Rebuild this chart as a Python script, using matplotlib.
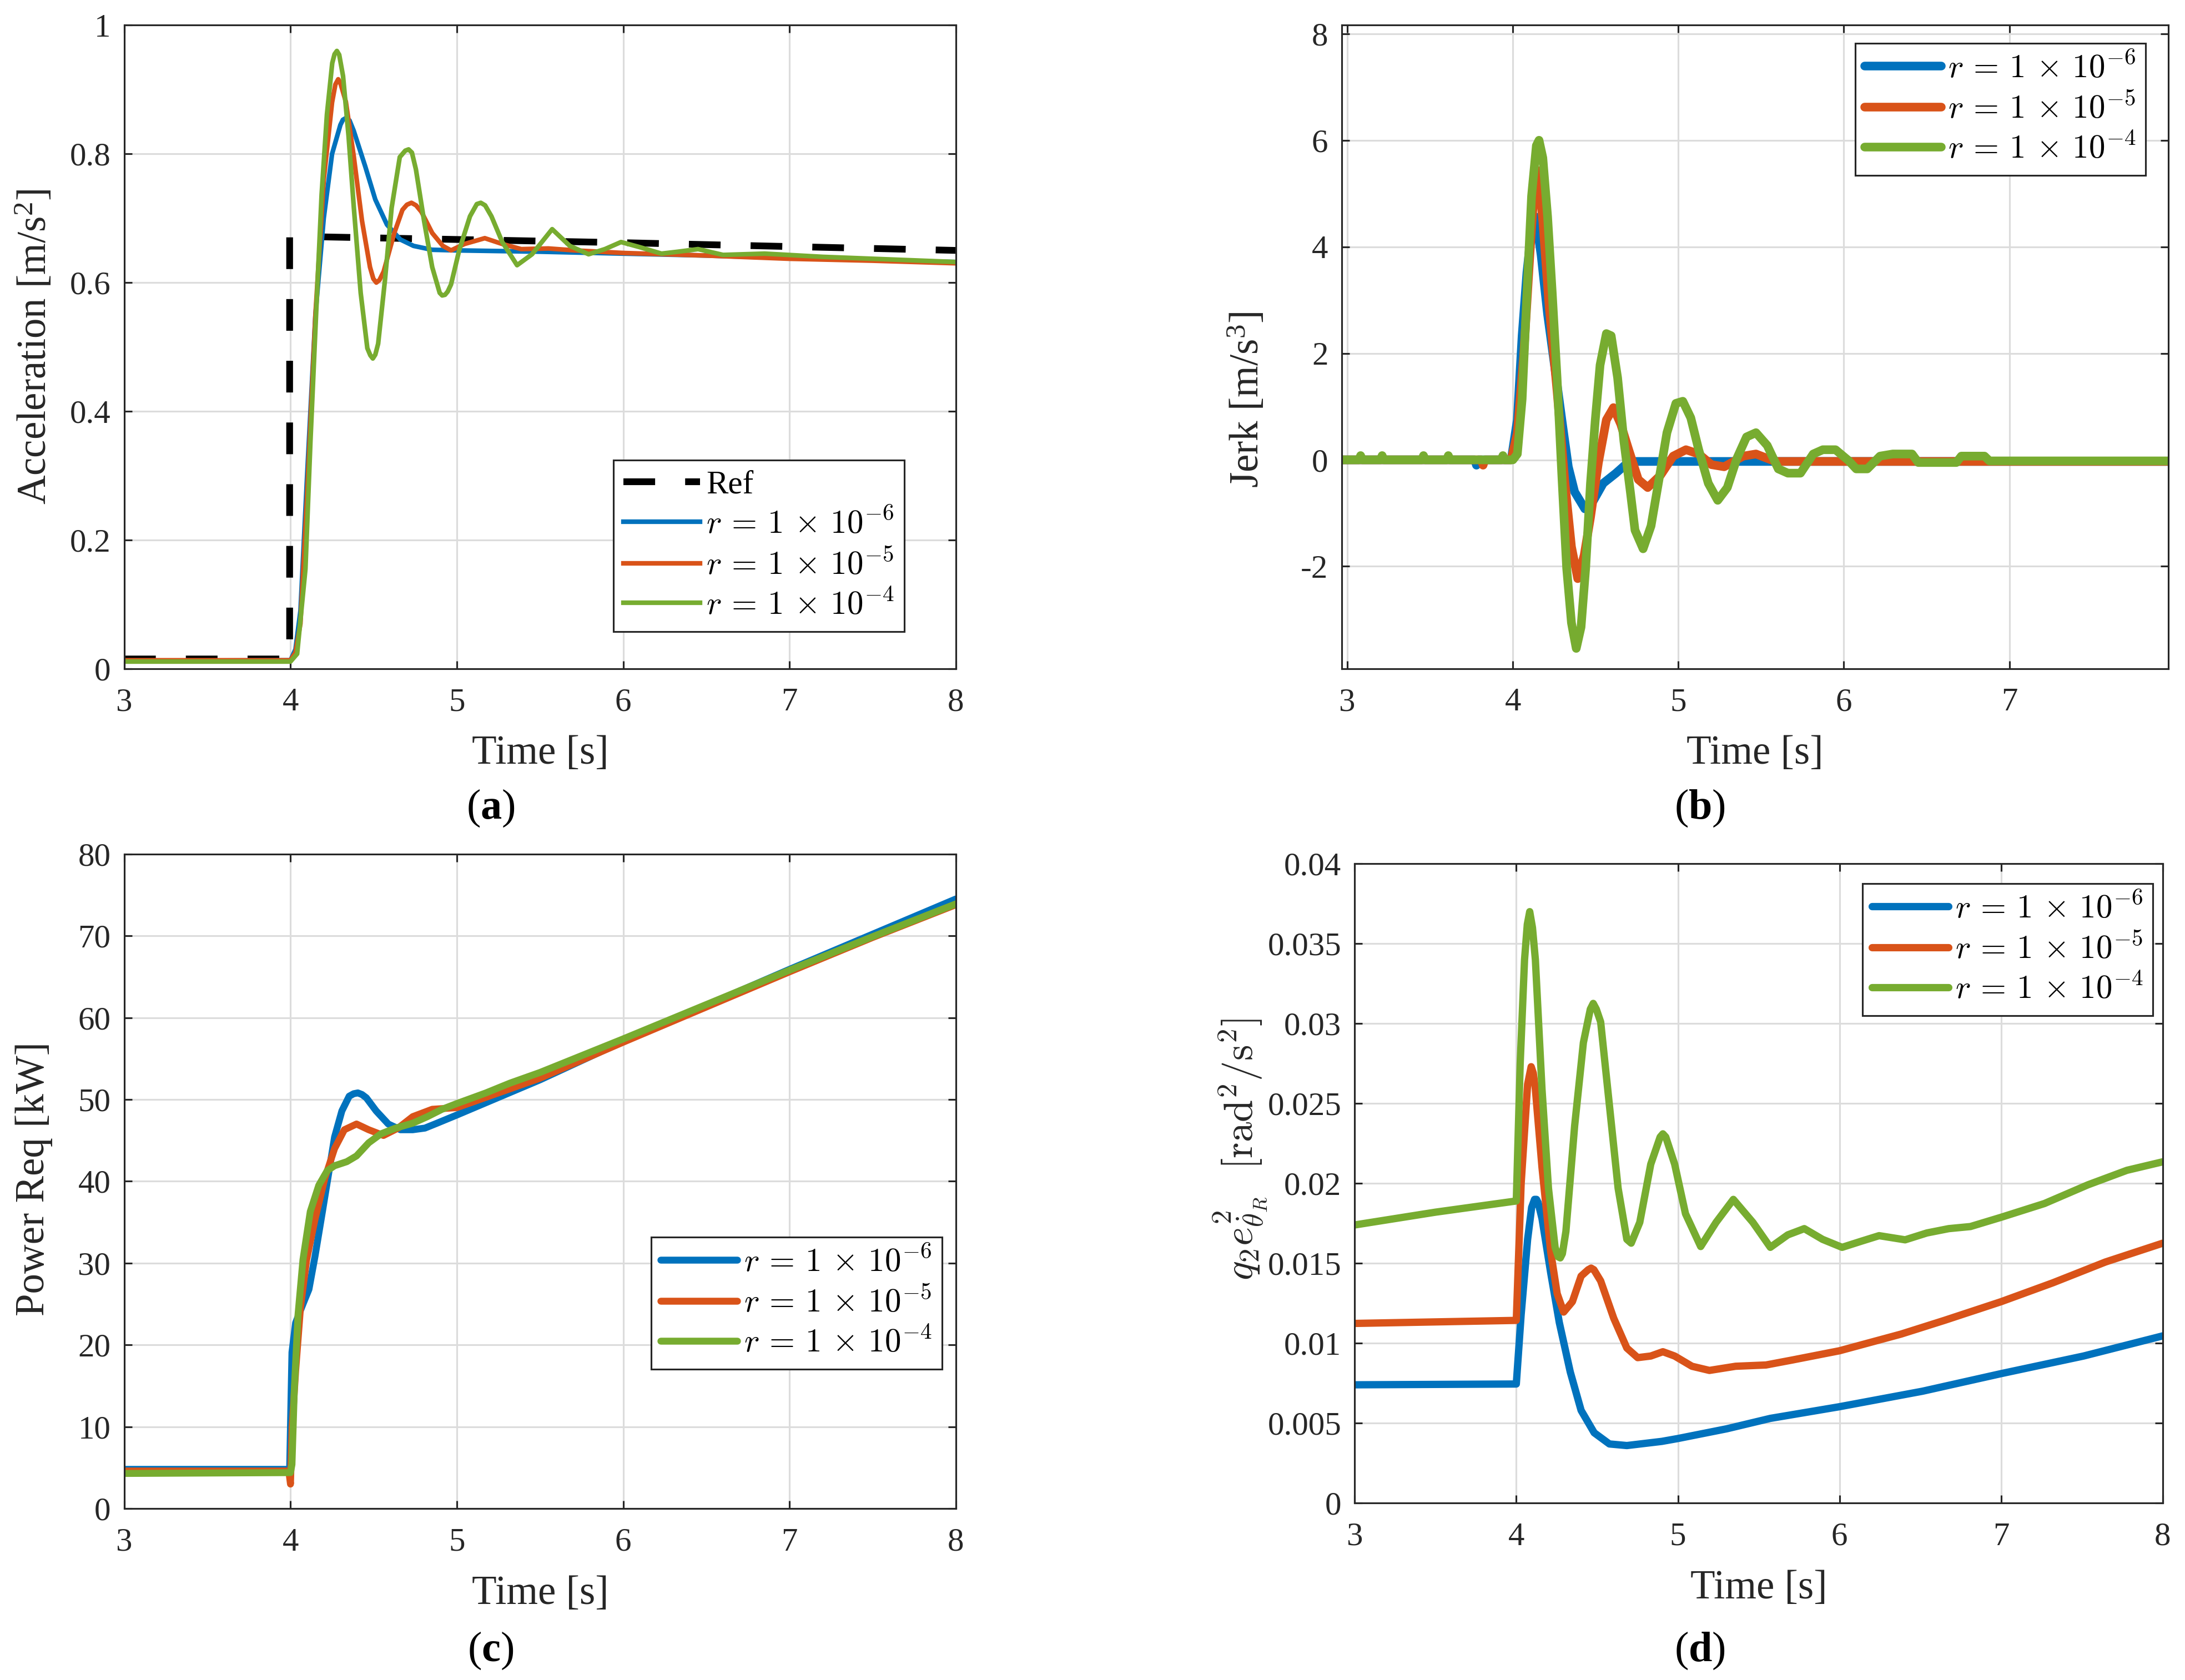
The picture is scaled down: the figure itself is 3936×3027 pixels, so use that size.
import matplotlib
matplotlib.use("Agg")
import matplotlib.pyplot as plt
from matplotlib.ticker import FuncFormatter

# ---- data ----
labels = [r"$r\,=\,1\,\times\,10^{-6}$", r"$r\,=\,1\,\times\,10^{-5}$", r"$r\,=\,1\,\times\,10^{-4}$"]
colors = ["#0072BD", "#D95319", "#77AC30"]

# (a) acceleration
t_ref = [3.0, 3.995, 3.995, 6.0, 8.0]
a_ref = [0.015, 0.015, 0.672, 0.662, 0.650]

t_a1 = [3.0, 4.0, 4.03, 4.06, 4.1, 4.15, 4.2, 4.25, 4.3, 4.315,
        4.335, 4.355, 4.38, 4.45, 4.51, 4.58, 4.66, 4.74, 4.85, 5.0,
        5.5, 6.0, 6.5, 7.0, 7.5, 8.0]
a_a1 = [0.012, 0.013, 0.03, 0.09, 0.30, 0.55, 0.70, 0.80, 0.845, 0.853,
        0.856, 0.852, 0.836, 0.78, 0.729, 0.69, 0.667, 0.657, 0.651, 0.650,
        0.648, 0.645, 0.642, 0.638, 0.635, 0.632]

t_a2 = [3.0, 4.0, 4.03, 4.06, 4.1, 4.15, 4.2, 4.25, 4.27, 4.287,
        4.30, 4.333, 4.381, 4.43, 4.478, 4.498, 4.516, 4.535, 4.56, 4.624,
        4.673, 4.70, 4.727, 4.755, 4.787, 4.852, 4.916, 4.965, 5.046, 5.168,
        5.273, 5.387, 5.55, 5.71, 6.0, 6.5, 7.0, 7.5, 8.0]
a_a2 = [0.013, 0.013, 0.025, 0.07, 0.27, 0.55, 0.76, 0.88, 0.908, 0.916,
        0.910, 0.881, 0.795, 0.696, 0.624, 0.606, 0.600, 0.604, 0.617, 0.677,
        0.713, 0.721, 0.724, 0.720, 0.710, 0.677, 0.657, 0.650, 0.660, 0.669,
        0.660, 0.652, 0.653, 0.650, 0.646, 0.642, 0.637, 0.634, 0.630]

t_a3 = [3.0, 4.0, 4.04, 4.09, 4.12, 4.154, 4.187, 4.219, 4.251, 4.265,
        4.279, 4.293, 4.316, 4.349, 4.381, 4.422, 4.462, 4.48, 4.495, 4.51,
        4.527, 4.568, 4.608, 4.657, 4.69, 4.71, 4.73, 4.754, 4.803, 4.852,
        4.897, 4.912, 4.929, 4.945, 4.965, 5.014, 5.079, 5.12, 5.144, 5.17,
        5.208, 5.273, 5.362, 5.452, 5.573, 5.679, 5.792, 5.89, 5.987, 6.1,
        6.23, 6.33, 6.45, 6.6, 6.85, 7.2, 7.6, 8.0]
a_a3 = [0.011, 0.011, 0.023, 0.155, 0.353, 0.551, 0.736, 0.861, 0.941, 0.955,
        0.960, 0.954, 0.921, 0.828, 0.716, 0.584, 0.498, 0.487, 0.482, 0.488,
        0.505, 0.604, 0.716, 0.795, 0.805, 0.807, 0.802, 0.776, 0.696, 0.624,
        0.584, 0.580, 0.581, 0.586, 0.597, 0.650, 0.703, 0.722, 0.724, 0.720,
        0.703, 0.663, 0.627, 0.644, 0.683, 0.657, 0.644, 0.652, 0.663, 0.655,
        0.645, 0.648, 0.652, 0.643, 0.645, 0.640, 0.636, 0.632]

# (b) jerk
t_j1 = [2.96, 3.77, 3.78, 3.79, 3.99, 4.027, 4.056, 4.085, 4.113, 4.138,
        4.171, 4.21, 4.248, 4.296, 4.335, 4.373, 4.435, 4.488, 4.546, 4.623,
        4.681, 4.738, 5.0, 6.0, 7.96]
j_j1 = [0, 0, -0.1, 0, 0, 0.75, 2.33, 3.52, 4.32, 4.56,
        3.84, 2.73, 1.86, 0.75, -0.13, -0.60, -0.92, -0.76, -0.44, -0.25,
        -0.09, -0.03, -0.03, -0.03, -0.03]

t_j2 = [2.96, 3.81, 3.82, 3.83, 3.99, 4.027, 4.065, 4.104, 4.133, 4.152,
        4.181, 4.219, 4.267, 4.315, 4.354, 4.392, 4.431, 4.469, 4.517, 4.565,
        4.608, 4.652, 4.70, 4.758, 4.815, 4.892, 4.969, 5.046, 5.123, 5.20,
        5.277, 5.392, 5.469, 5.585, 6.0, 7.96]
j_j2 = [0, 0, -0.1, 0, 0, 0.5, 1.94, 3.92, 5.27, 5.43,
        4.48, 2.89, 1.30, -0.44, -1.63, -2.23, -1.79, -1.08, -0.05, 0.75,
        0.98, 0.67, 0.19, -0.37, -0.52, -0.29, 0.07, 0.19, 0.11, -0.09,
        -0.13, 0.07, 0.11, -0.03, -0.03, -0.03]

t_j3 = [2.96, 3.07, 3.08, 3.09, 3.2, 3.21, 3.22, 3.45, 3.46, 3.47,
        3.6, 3.61, 3.62, 3.93, 3.94, 3.95, 4.0, 4.027, 4.056, 4.085,
        4.113, 4.142, 4.158, 4.181, 4.21, 4.238, 4.267, 4.296, 4.325, 4.354,
        4.383, 4.412, 4.44, 4.469, 4.498, 4.527, 4.565, 4.594, 4.633, 4.671,
        4.71, 4.738, 4.787, 4.835, 4.883, 4.931, 4.985, 5.027, 5.075, 5.123,
        5.181, 5.238, 5.296, 5.354, 5.412, 5.469, 5.537, 5.604, 5.662, 5.738,
        5.815, 5.873, 5.95, 6.027, 6.075, 6.142, 6.219, 6.296, 6.412, 6.45,
        6.68, 6.71, 6.85, 6.88, 7.96]
j_j3 = [0, 0, 0.08, 0, 0, 0.08, 0, 0, 0.08, 0,
        0, 0.08, 0, 0, 0.08, 0, 0, 0.11, 1.14, 3.13,
        4.95, 5.9, 6.0, 5.67, 4.56, 3.13, 1.54, -0.29, -2.03, -3.06,
        -3.54, -3.14, -2.03, -0.44, 0.75, 1.78, 2.37, 2.33, 1.54, 0.35,
        -0.6, -1.32, -1.67, -1.24, -0.37, 0.51, 1.06, 1.10, 0.79, 0.19,
        -0.44, -0.76, -0.52, 0.03, 0.43, 0.51, 0.27, -0.17, -0.25, -0.25,
        0.11, 0.19, 0.19, -0.01, -0.17, -0.17, 0.07, 0.11, 0.11, -0.05,
        -0.05, 0.07, 0.07, -0.02, -0.02]

# (c) power request [kW]
t_p1 = [3.0, 3.995, 4.0, 4.009, 4.031, 4.075, 4.111, 4.148, 4.192, 4.229,
        4.265, 4.309, 4.353, 4.38, 4.405, 4.43, 4.456, 4.515, 4.588, 4.661,
        4.735, 4.808, 4.881, 5.0, 5.5, 6.0, 6.5, 7.0, 7.5, 8.0]
p_p1 = [4.8, 4.8, 10.0, 19.1, 22.7, 25.0, 26.8, 30.9, 36.3, 40.9,
        45.4, 48.6, 50.4, 50.7, 50.8, 50.6, 50.2, 48.6, 47.0, 46.3,
        46.3, 46.5, 47.1, 48.1, 52.4, 57.1, 61.5, 65.9, 70.2, 74.5]

t_p2 = [3.0, 3.99, 4.0, 4.01, 4.031, 4.06, 4.097, 4.148, 4.207, 4.265,
        4.324, 4.397, 4.47, 4.559, 4.647, 4.735, 4.852, 5.0, 5.5, 6.0,
        6.5, 7.0, 7.5, 8.0]
p_p2 = [4.6, 4.6, 3.0, 10.0, 16.8, 24.5, 30.4, 35.4, 40.4, 44.0,
        46.3, 47.0, 46.3, 45.6, 46.5, 47.9, 48.8, 49.0, 52.6, 57.0,
        61.3, 65.6, 69.8, 73.8]

t_p3 = [3.0, 4.0, 4.009, 4.023, 4.045, 4.075, 4.119, 4.17, 4.221, 4.265,
        4.339, 4.397, 4.47, 4.544, 4.632, 4.735, 4.823, 4.911, 5.0, 5.175,
        5.32, 5.5, 6.0, 6.5, 7.0, 7.5, 8.0]
p_p3 = [4.3, 4.4, 5.4, 14.5, 23.6, 30.4, 36.3, 39.5, 41.3, 41.9,
        42.4, 43.1, 44.7, 45.8, 46.5, 47.1, 47.9, 48.8, 49.5, 50.8,
        52.0, 53.3, 57.4, 61.6, 65.8, 69.9, 73.9]

# (d) weighted squared error
t_q1 = [3.0, 4.0, 4.03, 4.07, 4.095, 4.113, 4.125, 4.135, 4.159, 4.213,
        4.266, 4.334, 4.401, 4.482, 4.576, 4.684, 4.9, 5.0, 5.303, 5.572,
        6.0, 6.514, 7.0, 7.51, 8.0]
q_q1 = [0.0074, 0.00745, 0.0118, 0.0165, 0.0185, 0.0190, 0.0190, 0.0188, 0.0178, 0.0144,
        0.0113, 0.0082, 0.0058, 0.0044, 0.0037, 0.0036, 0.00386, 0.00404, 0.00465, 0.0053,
        0.00603, 0.0070, 0.0081, 0.0092, 0.01046]

t_q2 = [3.0, 4.0, 4.03, 4.07, 4.092, 4.105, 4.118, 4.159, 4.213, 4.253,
        4.293, 4.347, 4.401, 4.445, 4.463, 4.48, 4.522, 4.603, 4.684, 4.751,
        4.832, 4.907, 4.98, 5.087, 5.195, 5.357, 5.545, 5.707, 6.0, 6.38,
        6.649, 7.0, 7.32, 7.645, 8.0]
q_q2 = [0.01124, 0.01143, 0.0200, 0.0262, 0.0273, 0.0269, 0.0259, 0.0210, 0.0157, 0.0131,
        0.01195, 0.0126, 0.0142, 0.0146, 0.0147, 0.0146, 0.0139, 0.01156, 0.0097, 0.0091,
        0.0092, 0.00947, 0.0092, 0.00856, 0.0083, 0.00856, 0.00864, 0.00895, 0.00953, 0.01057,
        0.01143, 0.0126, 0.01378, 0.01508, 0.01626]

t_q3 = [3.0, 3.5, 4.0, 4.024, 4.051, 4.068, 4.083, 4.10, 4.118, 4.159,
        4.199, 4.24, 4.26, 4.272, 4.285, 4.307, 4.361, 4.415, 4.458, 4.476,
        4.495, 4.522, 4.576, 4.63, 4.684, 4.711, 4.764, 4.832, 4.89, 4.907,
        4.925, 4.98, 5.047, 5.141, 5.236, 5.343, 5.464, 5.572, 5.68, 5.782,
        5.895, 6.016, 6.137, 6.245, 6.406, 6.541, 6.676, 6.81, 7.0, 7.268,
        7.537, 7.779, 8.0]
q_q3 = [0.0174, 0.0182, 0.0189, 0.0275, 0.0340, 0.0362, 0.0370, 0.0360, 0.0340, 0.0259,
        0.0197, 0.0160, 0.0154, 0.01534, 0.0156, 0.0170, 0.0236, 0.0288, 0.0309, 0.03126,
        0.0309, 0.0301, 0.0249, 0.0197, 0.0165, 0.01626, 0.01756, 0.0212, 0.0229, 0.0231,
        0.0229, 0.0212, 0.0181, 0.01605, 0.01756, 0.0190, 0.01756, 0.0160, 0.01678, 0.01717,
        0.0165, 0.0160, 0.01639, 0.01673, 0.01647, 0.0169, 0.01717, 0.0173, 0.01788, 0.01874,
        0.01991, 0.02082, 0.02135]

# ---- style ----
plt.rcParams['font.family'] = ['Liberation Serif', 'DejaVu Serif']
plt.rcParams['mathtext.fontset'] = 'custom'
plt.rcParams['mathtext.rm'] = 'Liberation Serif'
plt.rcParams['mathtext.it'] = 'Liberation Serif:italic'
plt.rcParams['mathtext.bf'] = 'Liberation Serif:bold'
plt.rcParams['axes.unicode_minus'] = False

TXT = '#262626'
TICK_FS = 17
LAB_FS = 21
LEG_FS = 17

fig = plt.figure(figsize=(15.744, 12.108), dpi=250)
ax_a = fig.add_axes([0.0568, 0.602, 0.3807, 0.383])
ax_b = fig.add_axes([0.614, 0.602, 0.3783, 0.383])
ax_c = fig.add_axes([0.0568, 0.102, 0.3807, 0.3897])
ax_d = fig.add_axes([0.620, 0.1053, 0.3698, 0.3806])

fmt = FuncFormatter(lambda v, p: "%g" % v)


def style(ax):
    ax.grid(True, color='#dcdcdc', linewidth=0.9)
    ax.set_axisbelow(True)
    ax.tick_params(direction='in', top=True, right=True, length=4, width=0.9,
                   labelsize=TICK_FS, colors=TXT)
    ax.tick_params(axis='x', pad=10)
    ax.tick_params(axis='y', pad=7)
    for s in ax.spines.values():
        s.set_color(TXT)
        s.set_linewidth(0.9)
    ax.yaxis.set_major_formatter(fmt)
    ax.xaxis.set_major_formatter(fmt)
    ax.set_xlabel('Time [s]', fontsize=LAB_FS, color=TXT, labelpad=9)


def legend(ax, loc, anchor):
    leg = ax.legend(loc=loc, bbox_to_anchor=anchor, fontsize=LEG_FS, frameon=True,
                    fancybox=False, framealpha=1, edgecolor=TXT, borderpad=0.3,
                    labelspacing=0.27, handlelength=2.33, handletextpad=0.2,
                    borderaxespad=0)
    leg.get_frame().set_linewidth(0.9)
    for t in leg.get_texts():
        t.set_math_fontfamily('cm')
    return leg


# (a)
ax_a.plot(t_ref, a_ref, color='black', lw=3.5, dashes=(4.7, 4.45), label='Ref')
for t, y, c, l in zip([t_a1, t_a2, t_a3], [a_a1, a_a2, a_a3], colors, labels):
    ax_a.plot(t, y, color=c, lw=2.4, label=l, solid_joinstyle='round')
ax_a.set_xlim(3, 8)
ax_a.set_ylim(0, 1)
ax_a.set_xticks([3, 4, 5, 6, 7, 8])
ax_a.set_yticks([0, 0.2, 0.4, 0.6, 0.8, 1])
style(ax_a)
ax_a.set_ylabel(r'Acceleration [m/s$^2$]', fontsize=LAB_FS, color=TXT)
ax_a.yaxis.set_label_coords(-0.083, 0.5)
legend(ax_a, 'lower right', (0.938, 0.058))

# (b)
for t, y, c, l in zip([t_j1, t_j2, t_j3], [j_j1, j_j2, j_j3], colors, labels):
    ax_b.plot(t, y, color=c, lw=4.5, label=l, solid_joinstyle='round',
              solid_capstyle='round')
ax_b.set_xlim(2.965, 7.96)
ax_b.set_ylim(-3.92, 8.16)
ax_b.set_xticks([3, 4, 5, 6, 7])
ax_b.set_yticks([-2, 0, 2, 4, 6, 8])
style(ax_b)
ax_b.set_ylabel(r'Jerk [m/s$^3$]', fontsize=LAB_FS, color=TXT)
ax_b.yaxis.set_label_coords(-0.09, 0.418)
legend(ax_b, 'upper right', (0.973, 0.972))

# (c)
for t, y, c, l in zip([t_p1, t_p2, t_p3], [p_p1, p_p2, p_p3], colors, labels):
    ax_c.plot(t, y, color=c, lw=3.6, label=l, solid_joinstyle='round',
              solid_capstyle='round')
ax_c.set_xlim(3, 8)
ax_c.set_ylim(0, 80)
ax_c.set_xticks([3, 4, 5, 6, 7, 8])
ax_c.set_yticks(range(0, 81, 10))
style(ax_c)
ax_c.set_ylabel('Power Req [kW]', fontsize=LAB_FS, color=TXT)
ax_c.yaxis.set_label_coords(-0.086, 0.504)
legend(ax_c, 'lower right', (0.983, 0.213))

# (d)
for t, y, c, l in zip([t_q1, t_q2, t_q3], [q_q1, q_q2, q_q3], colors, labels):
    ax_d.plot(t, y, color=c, lw=3.8, label=l, solid_joinstyle='round',
              solid_capstyle='round')
ax_d.set_xlim(3, 8)
ax_d.set_ylim(0, 0.04)
ax_d.set_xticks([3, 4, 5, 6, 7, 8])
ax_d.set_yticks([0, 0.005, 0.01, 0.015, 0.02, 0.025, 0.03, 0.035, 0.04])
style(ax_d)
yl = ax_d.set_ylabel(r'$q_2e^2_{\dot{\theta}_R}\ \ [\mathrm{rad}^2/\mathrm{s}^2]$',
                     fontsize=LAB_FS, color=TXT)
yl.set_math_fontfamily('cm')
ax_d.yaxis.set_label_coords(-0.107, 0.553)
legend(ax_d, 'upper right', (0.988, 0.969))

# captions
for x, y, s in [(0.2245, 0.519, 'a'), (0.778, 0.519, 'b'),
                (0.2245, 0.0174, 'c'), (0.778, 0.0174, 'd')]:
    fig.text(x, y, r'($\mathbf{%s}$)' % s, fontsize=22, ha='center', va='center',
             color='black')

fig.savefig('out.png', dpi=250)
